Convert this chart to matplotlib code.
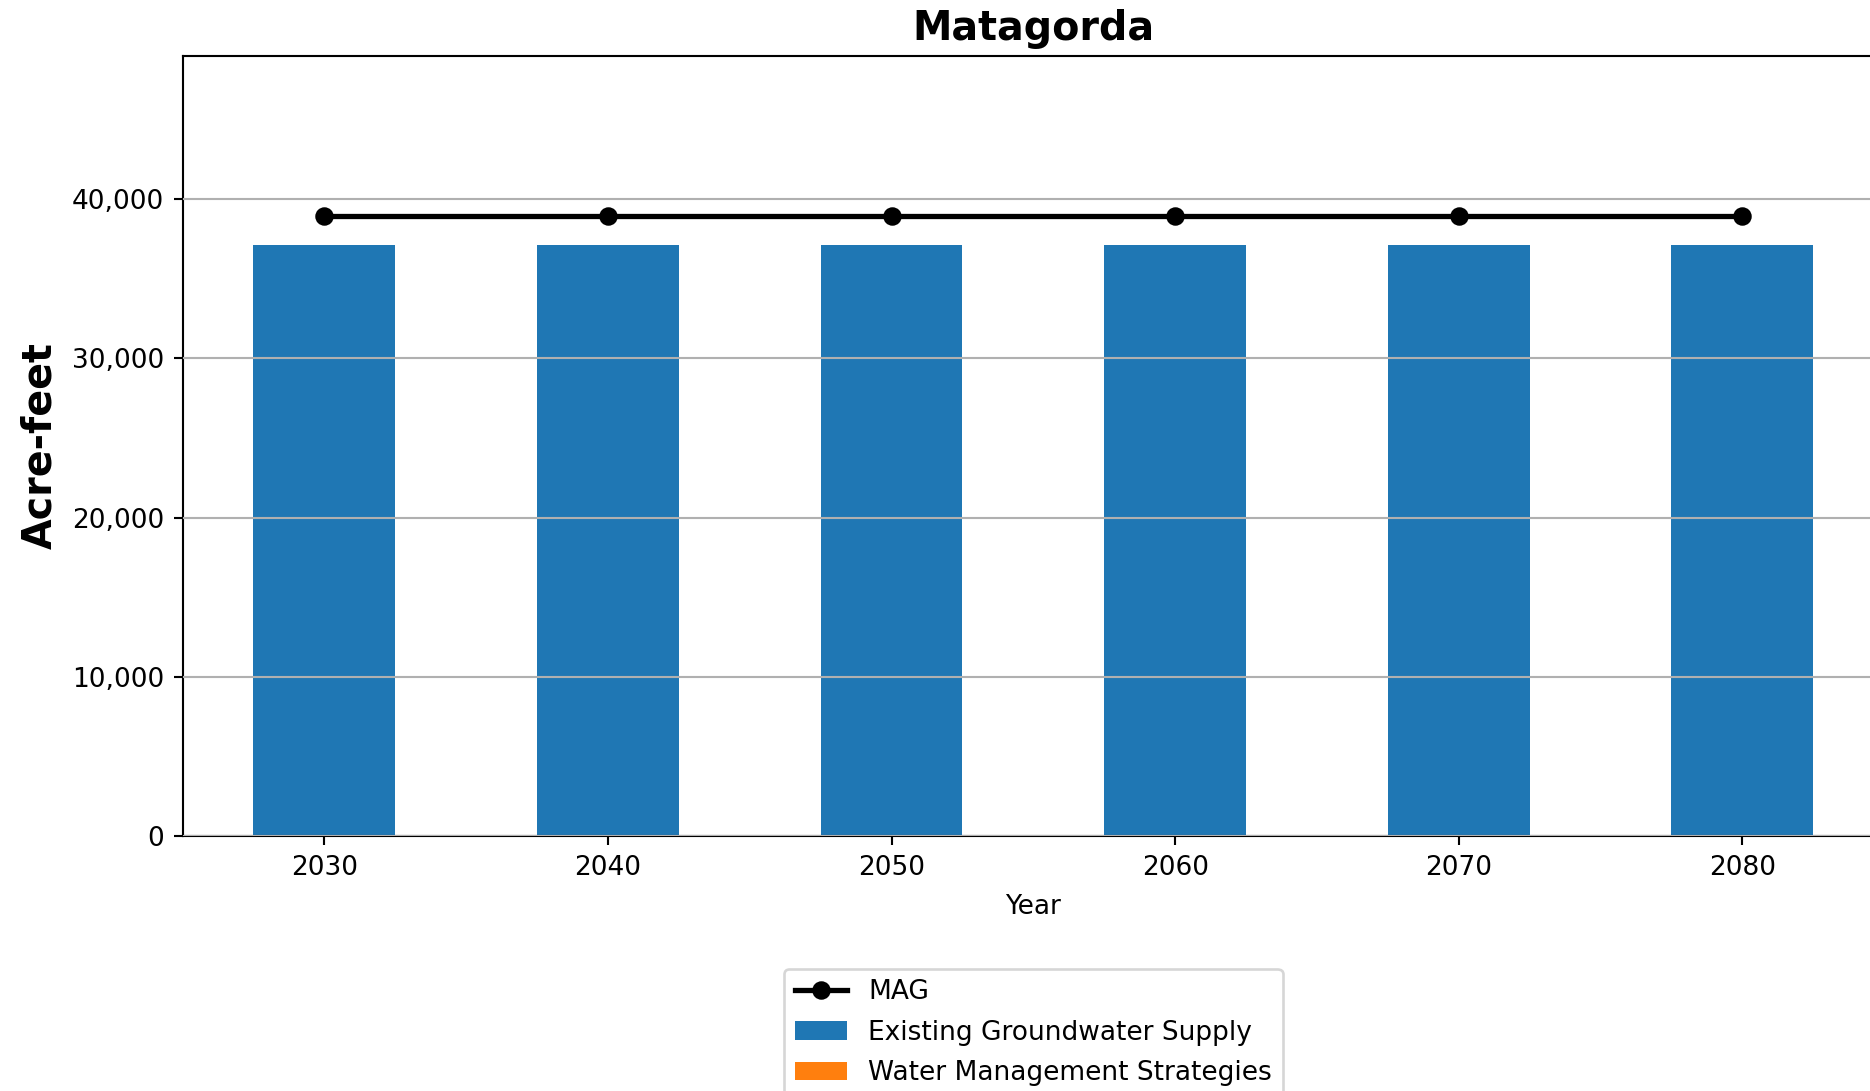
import matplotlib
matplotlib.use('Agg')
import matplotlib.pyplot as plt
import numpy as np
from matplotlib.ticker import FuncFormatter

years = ['2030', '2040', '2050', '2060', '2070', '2080']
existing_supply = [37150, 37150, 37150, 37150, 37150, 37150]
strategies = [0, 0, 0, 0, 0, 0]
mag = [38950, 38950, 38950, 38950, 38950, 38950]

fig = plt.figure(figsize=(1870 / 190, 1091 / 190), dpi=190)
ax = fig.add_axes([0.0976, 0.2337, 0.910, 0.715])

x = np.arange(len(years))
b1 = ax.bar(x, existing_supply, width=0.5, color='#1f77b4', label='Existing Groundwater Supply')
b2 = ax.bar(x, strategies, width=0.5, bottom=existing_supply, color='#ff7f0e',
            label='Water Management Strategies')
ln, = ax.plot(x, mag, color='black', marker='o', linewidth=2, markersize=6, label='MAG')

ax.set_xlim(-0.5, len(years) - 0.5)
ax.set_ylim(0, max(mag) * 1.258)
ax.set_xticks(x)
ax.set_xticklabels(years, rotation=0)
ax.set_yticks([0, 10000, 20000, 30000, 40000])
ax.yaxis.set_major_formatter(FuncFormatter(lambda v, p: f'{int(v):,}'))
ax.grid(axis='y', color='#b0b0b0', linewidth=0.8)
ax.set_axisbelow(False)

ax.set_title('Matagorda', fontsize=15, fontweight='bold', pad=6)
ax.set_ylabel('Acre-feet', fontsize=15, fontweight='bold', labelpad=4.5)
ax.set_xlabel('Year', fontsize=10, labelpad=5)

ax.legend(handles=[ln, b1, b2], loc='upper center', bbox_to_anchor=(0.5, -0.153), fontsize=10,
          labelspacing=0.55)

fig.savefig('out.png', dpi=190)
